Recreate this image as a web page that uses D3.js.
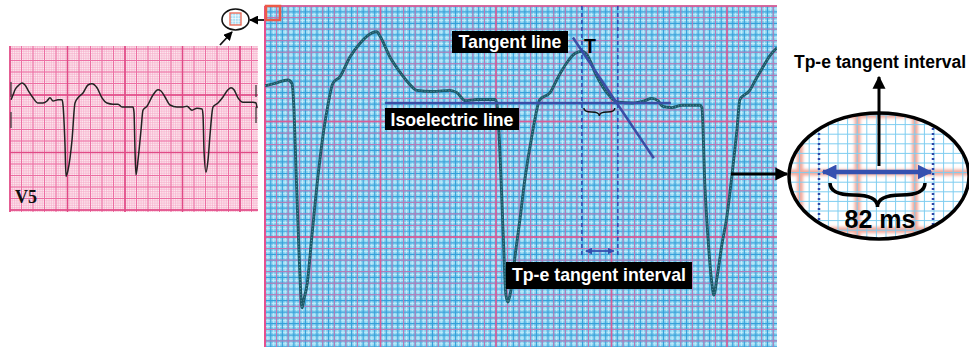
<!DOCTYPE html>
<html>
<head>
<meta charset="utf-8">
<script src="https://cdn.jsdelivr.net/npm/d3@7"></script>
<style>
  body { margin: 0; background: #fff; }
  svg { display: block; }
  text { font-family: "Liberation Sans", Arial, sans-serif; font-weight: bold; }
</style>
</head>
<body>
<div id="chart"></div>
<script>
// magnified V5 beat segment: [time ms, amplitude mV]
const mainTrace = [
  [0, 0.15], [34, 0.17], [79, 0.20], [93, 0.17], [100, -0.06], [107, -0.58], [117, -1.28],
  [128, -1.78], [134, -1.71], [145, -1.58], [162, -1.15], [183, -0.63], [203, -0.23],
  [217, -0.02], [234, 0.17], [259, 0.23], [293, 0.40], [328, 0.52], [369, 0.61], [386, 0.62],
  [397, 0.58], [431, 0.40], [465, 0.27], [500, 0.16], [524, 0.11], [579, 0.10], [638, 0.11],
  [662, 0.09], [690, 0.02], [731, 0.03], [793, 0.03], [800, -0.01], [810, -0.41], [821, -1.10],
  [831, -1.67], [838, -1.73], [848, -1.63], [865, -1.28], [879, -1.02], [896, -0.67],
  [921, -0.28], [948, 0.03], [983, 0.09], [1010, 0.22], [1041, 0.35], [1069, 0.43],
  [1093, 0.45], [1110, 0.42], [1145, 0.23], [1179, 0.09], [1214, 0.01], [1269, 0.00],
  [1310, 0.02], [1334, 0.04], [1355, 0.02], [1372, -0.03], [1403, -0.04], [1438, -0.02],
  [1500, -0.02], [1507, -0.04], [1517, -0.70], [1531, -1.28], [1541, -1.56], [1548, -1.67],
  [1559, -1.52], [1576, -1.23], [1593, -0.99], [1610, -0.64], [1628, -0.23], [1638, 0.03],
  [1672, 0.11], [1696, 0.22], [1717, 0.31], [1741, 0.41], [1766, 0.48]
]

// original V5 strip
const stripTrace = [
  [10, 0.03], [30, 0.15], [50, 0.28], [90, 0.40], [120, 0.45], [150, 0.40], [190, 0.23],
  [230, 0.08], [280, -0.05], [330, -0.05], [370, 0.00], [400, 0.08], [430, 0.00], [480, 0.03],
  [520, 0.03], [530, -0.10], [550, -1.10], [560, -1.88], [580, -1.73], [620, -0.98],
  [650, -0.05], [680, 0.08], [730, 0.20], [780, 0.40], [820, 0.43], [870, 0.33], [920, 0.08],
  [970, -0.05], [1030, -0.08], [1080, -0.08], [1120, -0.15], [1230, -0.15], [1240, -0.28],
  [1250, -1.23], [1260, -1.85], [1280, -1.48], [1310, -0.73], [1330, -0.23], [1370, -0.13],
  [1430, 0.15], [1480, 0.28], [1510, 0.25], [1550, 0.10], [1600, -0.10], [1670, -0.15],
  [1730, -0.15], [1770, -0.13], [1820, -0.23], [1870, -0.18], [1920, -0.20], [1930, -0.35],
  [1940, -1.23], [1960, -1.78], [1980, -1.48], [2000, -0.85], [2030, -0.15], [2080, -0.05],
  [2130, 0.10], [2180, 0.28], [2210, 0.33], [2240, 0.28], [2280, 0.08], [2330, -0.03],
  [2430, -0.03], [2460, -0.05], [2470, -0.18]
]

const tangentLine = [[1062, 0.57], [1341, -0.48]]
const isoelectricLine = [[414, 0], [1400, 0]]
const tPeak = 1093
const tEnd = 1217
const intervalMs = 82
const labels = ['Tangent line', 'Isoelectric line', 'Tp-e tangent interval', 'T', 'V5']

const W = 969, H = 347
const svg = d3.select('#chart').append('svg').attr('width', W).attr('height', H)
const defs = svg.append('defs')

const mkMarker = (id, color, w, h) => {
  defs.append('marker').attr('id', id).attr('viewBox', '0 0 10 10')
    .attr('refX', 9).attr('refY', 5).attr('markerUnits', 'userSpaceOnUse')
    .attr('markerWidth', w).attr('markerHeight', h).attr('orient', 'auto-start-reverse')
    .append('path').attr('d', 'M0,0 L10,5 L0,10 Z').attr('fill', color)
}
mkMarker('ahBlack', '#000', 13, 14)
mkMarker('ahSmall', '#000', 9, 9)
mkMarker('ahBlue', '#3550b0', 15, 15)
mkMarker('ahBlueSm', '#3550b0', 7, 7)

defs.append('filter').attr('id', 'blur').append('feGaussianBlur').attr('stdDeviation', 1.6)

// grid helper
function grid(g, x0, x1, y0, y1, ox, oy, step, layers) {
  layers.forEach(l => {
    const s = step * l.f
    const xs = d3.range(Math.ceil((x0 - ox) / s), Math.floor((x1 - ox) / s) + 1).map(i => ox + i * s)
    const ys = d3.range(Math.ceil((y0 - oy) / s), Math.floor((y1 - oy) / s) + 1).map(i => oy + i * s)
    const gg = g.append('g').attr('stroke', l.c).attr('stroke-width', l.w).attr('opacity', l.o || 1)
    gg.selectAll('.v').data(xs).join('line').attr('x1', d => d).attr('x2', d => d).attr('y1', y0).attr('y2', y1)
    gg.selectAll('.h').data(ys).join('line').attr('y1', d => d).attr('y2', d => d).attr('x1', x0).attr('x2', x1)
  })
}

// ---------- left strip ----------
const sx0 = 10, sx1 = 258, sy0 = 46, sy1 = 212
const strip = svg.append('g')
strip.append('rect').attr('x', sx0).attr('y', sy0).attr('width', sx1 - sx0).attr('height', sy1 - sy0).attr('fill', '#fde8ef')
grid(strip, sx0, sx1, sy0, sy1, 10, 37.5, 11.5, [
  { f: 0.2, c: '#f5aac7', w: 0.6 },
  { f: 1, c: '#ec6fa3', w: 1 },
  { f: 5, c: '#e04a86', w: 1.6 }
])
const xS = d3.scaleLinear().domain([0, 2480]).range([10, 258])
const yS = d3.scaleLinear().domain([-2, 1]).range([181, 61])
strip.append('path').datum(stripTrace)
  .attr('d', d3.line().x(d => xS(d[0])).y(d => yS(d[1])).curve(d3.curveMonotoneX))
  .attr('fill', 'none').attr('stroke', '#222').attr('stroke-width', 1.5)
// calibration ticks
strip.append('g').attr('stroke', '#333').attr('stroke-width', 1.2).selectAll('line')
  .data([[11, 82, 97], [11, 112, 128], [256, 85, 97], [256, 107, 123]]).join('line')
  .attr('x1', d => d[0]).attr('x2', d => d[0]).attr('y1', d => d[1]).attr('y2', d => d[2])
strip.append('text').attr('x', 15).attr('y', 203).attr('font-size', 18)
  .style('font-family', '"Liberation Serif", "DejaVu Serif", serif').attr('fill', '#111').text(labels[4])

// small magnifier icon
svg.append('ellipse').attr('cx', 235.5).attr('cy', 19.5).attr('rx', 13.5).attr('ry', 10.5)
  .attr('fill', '#fff').attr('stroke', '#111').attr('stroke-width', 1.6)
svg.append('rect').attr('x', 230).attr('y', 13).attr('width', 11).attr('height', 12).attr('fill', '#a9def6')
grid(svg.append('g'), 230, 241, 13, 25, 230, 13, 11, [{ f: 0.25, c: '#fff', w: 0.6 }])
svg.append('rect').attr('x', 230).attr('y', 13).attr('width', 11).attr('height', 12)
  .attr('fill', 'none').attr('stroke', '#ec6450').attr('stroke-width', 1.3)
svg.append('line').attr('x1', 220).attr('y1', 45).attr('x2', 232).attr('y2', 32)
  .attr('stroke', '#111').attr('stroke-width', 1.8).attr('marker-end', 'url(#ahSmall)')
svg.append('line').attr('x1', 265).attr('y1', 20).attr('x2', 250).attr('y2', 20)
  .attr('stroke', '#111').attr('stroke-width', 1.8).attr('marker-end', 'url(#ahSmall)')

// ---------- main magnified panel ----------
const mx0 = 265, mx1 = 777, my0 = 6, my1 = 347
const main = svg.append('g')
defs.append('clipPath').attr('id', 'mainClip').append('rect')
  .attr('x', mx0).attr('y', my0).attr('width', mx1 - mx0).attr('height', my1 - my0)
main.append('rect').attr('x', mx0).attr('y', my0).attr('width', mx1 - mx0).attr('height', my1 - my0).attr('fill', '#80cfef')
grid(main, mx0, mx1, my0, my1, mx0, my0, 11.55, [
  { f: 0.25, c: '#d6f3fd', w: 0.9, o: 0.85 },
  { f: 0.5, c: '#36a0da', w: 1.2 },
  { f: 1, c: '#df6fab', w: 1, o: 0.85 },
  { f: 10, c: '#e0558f', w: 1.8, o: 0.75 }
])
main.append('line').attr('x1', mx0).attr('x2', mx0).attr('y1', my0).attr('y2', my1).attr('stroke', '#e6508e').attr('stroke-width', 2)

const xM = d3.scaleLinear().domain([0, 1766]).range([265, 777])
const yM = d3.scaleLinear().domain([-2, 1]).range([333, -12])
const lineM = d3.line().x(d => xM(d[0])).y(d => yM(d[1]))

const plot = main.append('g').attr('clip-path', 'url(#mainClip)')
plot.append('path').datum(mainTrace)
  .attr('d', lineM.curve(d3.curveMonotoneX))
  .attr('fill', 'none').attr('stroke', '#1c5968').attr('stroke-width', 2.9).attr('stroke-linejoin', 'round')
plot.append('path').datum(mainTrace)
  .attr('d', lineM.curve(d3.curveMonotoneX))
  .attr('fill', 'none').attr('stroke', '#5d9aa6').attr('stroke-width', 1).attr('stroke-dasharray', '1 2')

const straight = d3.line().x(d => xM(d[0])).y(d => yM(d[1]))
plot.append('path').datum(isoelectricLine).attr('d', straight)
  .attr('stroke', '#3a4ea6').attr('stroke-width', 2.5).attr('fill', 'none')
plot.append('path').datum(tangentLine).attr('d', straight)
  .attr('stroke', '#3a4ea6').attr('stroke-width', 2.5).attr('fill', 'none')

plot.selectAll('.tmark').data([tPeak, tEnd]).join('line')
  .attr('x1', d => xM(d)).attr('x2', d => xM(d)).attr('y1', my0).attr('y2', 256)
  .attr('stroke', '#3346b0').attr('stroke-width', 1.5).attr('stroke-dasharray', '4 3')

// small double arrow between marks
plot.append('line').attr('x1', xM(tPeak) + 4).attr('x2', xM(tEnd) - 4).attr('y1', 251).attr('y2', 251)
  .attr('stroke', '#3550b0').attr('stroke-width', 1.8)
  .attr('marker-start', 'url(#ahBlueSm)').attr('marker-end', 'url(#ahBlueSm)')

function brace(x1, x2, y, h) {
  const m = (x1 + x2) / 2, r = Math.min(h, (x2 - x1) / 4)
  return `M${x1},${y} Q${x1},${y + h / 2} ${x1 + r},${y + h / 2} L${m - r},${y + h / 2} Q${m},${y + h / 2} ${m},${y + h} ` +
    `Q${m},${y + h / 2} ${m + r},${y + h / 2} L${x2 - r},${y + h / 2} Q${x2},${y + h / 2} ${x2},${y}`
}
plot.append('path').attr('d', brace(xM(tPeak) + 2, xM(tEnd) - 3, 108, 8))
  .attr('fill', 'none').attr('stroke', '#111').attr('stroke-width', 1.4)

// zoom marker square
main.append('rect').attr('x', 266).attr('y', 6).attr('width', 14).attr('height', 14)
  .attr('fill', 'none').attr('stroke', '#ec5a48').attr('stroke-width', 2.5)

// labels
const boxLabel = (txt, x, y, w, h, base) => {
  main.append('rect').attr('x', x).attr('y', y).attr('width', w).attr('height', h).attr('fill', '#000')
  main.append('text').attr('x', x + w / 2).attr('y', base).attr('text-anchor', 'middle')
    .attr('font-size', 17.7).attr('fill', '#fff').text(txt)
}
boxLabel(labels[0], 452, 31, 116, 22, 48)
boxLabel(labels[1], 385, 108, 134, 22, 126)
boxLabel(labels[2], 506, 262, 186, 27, 281)
main.append('text').attr('x', 584).attr('y', 53).attr('font-size', 19.5).attr('fill', '#000').text(labels[3])

// ---------- right zoom ellipse ----------
const ecx = 879, ecy = 176, erx = 90, ery = 63
defs.append('clipPath').attr('id', 'ellClip').append('ellipse')
  .attr('cx', ecx).attr('cy', ecy).attr('rx', erx).attr('ry', ery)
const ell = svg.append('g')
const ellIn = ell.append('g').attr('clip-path', 'url(#ellClip)')
ellIn.append('rect').attr('x', ecx - erx).attr('y', ecy - ery).attr('width', erx * 2).attr('height', ery * 2).attr('fill', '#fff')
const ellBlur = ellIn.append('g').attr('filter', 'url(#blur)')
grid(ellBlur, ecx - erx, ecx + erx, ecy - ery, ecy + ery, 800, 115, 57.5, [{ f: 1, c: '#f19a8a', w: 6, o: 0.85 }])
grid(ellIn, ecx - erx, ecx + erx, ecy - ery, ecy + ery, 790, 115, 9.6, [{ f: 1, c: '#7fcdf0', w: 1 }])
ellIn.selectAll('.dm').data([819, 933]).join('line')
  .attr('x1', d => d).attr('x2', d => d).attr('y1', ecy - ery).attr('y2', ecy + ery)
  .attr('stroke', '#2d46a8').attr('stroke-width', 2.5).attr('stroke-dasharray', '2 3')
ellIn.append('line').attr('x1', 879).attr('x2', 879).attr('y1', 166).attr('y2', ecy - ery)
  .attr('stroke', '#000').attr('stroke-width', 3)
ellIn.append('line').attr('x1', 823).attr('x2', 931).attr('y1', 172).attr('y2', 172)
  .attr('stroke', '#3550b0').attr('stroke-width', 4.5)
  .attr('marker-start', 'url(#ahBlue)').attr('marker-end', 'url(#ahBlue)')
ellIn.append('path').attr('d', brace(830, 925, 183, 24))
  .attr('fill', 'none').attr('stroke', '#000').attr('stroke-width', 3.5)
ellIn.append('text').attr('x', 880).attr('y', 228).attr('text-anchor', 'middle')
  .attr('font-size', 25).attr('fill', '#000').text(intervalMs + ' ms')
ell.append('ellipse').attr('cx', ecx).attr('cy', ecy).attr('rx', erx).attr('ry', ery)
  .attr('fill', 'none').attr('stroke', '#000').attr('stroke-width', 3.5)
ell.append('line').attr('x1', 879).attr('x2', 879).attr('y1', ecy - ery + 2).attr('y2', 77)
  .attr('stroke', '#000').attr('stroke-width', 3).attr('marker-end', 'url(#ahBlack)')
ell.append('text').attr('x', 880).attr('y', 68).attr('text-anchor', 'middle')
  .attr('font-size', 17.5).attr('fill', '#000').text(labels[2])

// connector from main panel to ellipse
svg.append('line').attr('x1', 731).attr('x2', 787).attr('y1', 174).attr('y2', 174)
  .attr('stroke', '#000').attr('stroke-width', 3).attr('marker-end', 'url(#ahBlack)')
</script>
</body>
</html>
